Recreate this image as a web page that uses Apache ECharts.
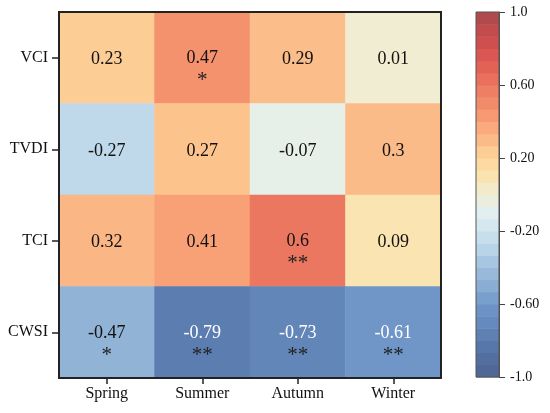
<!DOCTYPE html>
<html>
<head>
<meta charset="utf-8">
<script src="https://cdn.jsdelivr.net/npm/echarts@6/dist/echarts.min.js"></script>
<style>
  html, body { margin: 0; padding: 0; background: #fff; }
  #main { width: 550px; height: 413px; }
</style>
</head>
<body>
<div id="main"></div>
<script>
// seasons along x, indices along y (top to bottom)
var seasons = ['Spring', 'Summer', 'Autumn', 'Winter'];
var indices = ['VCI', 'TVDI', 'TCI', 'CWSI'];

// correlation values, one row per index
var vciVals = [0.23, 0.47, 0.29, 0.01];
var tvdiVals = [-0.27, 0.27, -0.07, 0.3];
var tciVals = [0.32, 0.41, 0.6, 0.09];
var cwsiVals = [-0.47, -0.79, -0.73, -0.61];

// significance marks
var vciSig = ['', '*', '', ''];
var tvdiSig = ['', '', '', ''];
var tciSig = ['', '', '**', ''];
var cwsiSig = ['*', '**', '**', '**'];

// colour bar
var barMin = -1, barMax = 1, barLevels = 30;

// colour stops every 0.1 from -1 to 1
var palette = ['#4d6592', '#536f9f', '#5b7bae', '#668abd', '#7097c8', '#8aaed3',
  '#9fbfdd', '#b8d4e8', '#cfe3ef', '#e2eff0', '#f0eed6', '#fae3ae', '#fdd69a',
  '#fbbb88', '#f9a277', '#f28b6a', '#ec7761', '#e26356', '#d65050', '#c24c4d', '#a9494c'];

var rows = [vciVals, tvdiVals, tciVals, cwsiVals];
var sigs = [vciSig, tvdiSig, tciSig, cwsiSig];
var heatData = [];
rows.forEach(function (r, j) {
  r.forEach(function (v, i) {
    var s = sigs[j][i];
    heatData.push({ value: [i, j, v], sig: s, dark: v < -0.55 });
  });
});

var bands = [];
var step = (barMax - barMin) / barLevels;
for (var k = 0; k < barLevels; k++) {
  var lo = barMin + k * step;
  bands.push([0, lo, lo + step, lo + step / 2]);
}

var font = 'Liberation Serif';
var chart = echarts.init(document.getElementById('main'));

var tickStyle = { color: '#222', width: 1.5 };

chart.setOption({
  animation: false,
  grid: [
    { left: 59, right: 109, top: 12, bottom: 35, show: true, z: 10,
      backgroundColor: 'transparent', borderColor: '#222', borderWidth: 2 },
    { left: 476, width: 23, top: 12, height: 365, show: true, z: 10,
      backgroundColor: 'transparent', borderColor: '#555', borderWidth: 1 }
  ],
  xAxis: [
    { type: 'category', data: seasons, gridIndex: 0,
      axisLine: { show: true, lineStyle: tickStyle },
      axisTick: { show: true, alignWithLabel: true, length: 6, lineStyle: tickStyle },
      axisLabel: { fontFamily: font, fontSize: 16, color: '#111', margin: 8 },
      splitLine: { show: false } },
    { type: 'category', data: ['c'], gridIndex: 1, show: false }
  ],
  yAxis: [
    { type: 'category', data: indices, gridIndex: 0, inverse: true,
      axisLine: { show: true, lineStyle: tickStyle },
      axisTick: { show: true, alignWithLabel: true, length: 7, lineStyle: tickStyle },
      axisLabel: { fontFamily: font, fontSize: 16, color: '#111', margin: 11 },
      splitLine: { show: false } },
    { type: 'value', gridIndex: 1, min: barMin, max: barMax, interval: 0.4, position: 'right',
      axisLine: { show: true, lineStyle: { color: '#555', width: 1 } },
      axisTick: { show: true, length: 6, lineStyle: { color: '#444', width: 1 } },
      axisLabel: { fontFamily: font, fontSize: 14, color: '#111', margin: 11,
        formatter: function (v) {
          return Math.abs(Math.abs(v) - 1) < 1e-6 ? v.toFixed(1) : v.toFixed(2);
        } },
      splitLine: { show: false } }
  ],
  visualMap: {
    show: false, type: 'continuous', min: barMin, max: barMax,
    seriesIndex: [0, 1],
    inRange: { color: palette }
  },
  series: [
    {
      type: 'heatmap', xAxisIndex: 0, yAxisIndex: 0,
      data: heatData,
      label: {
        show: true, fontFamily: font, fontSize: 18, lineHeight: 22,
        formatter: function (p) {
          var t = (p.data.dark ? '{w|' : '{b|') + p.value[2] + '}';
          return p.data.sig ? t + '\n{s|' + p.data.sig + '}' : t;
        },
        rich: {
          b: { fontFamily: font, fontSize: 18, lineHeight: 22, color: '#111' },
          w: { fontFamily: font, fontSize: 18, lineHeight: 22, color: '#fff' },
          s: { fontFamily: font, fontSize: 21, lineHeight: 22, color: '#222' }
        }
      },
      labelLayout: function (params) {
        var d = heatData[params.dataIndex];
        return d.sig ? { dy: 12 } : { dy: 2 };
      }
    },
    {
      type: 'custom', xAxisIndex: 1, yAxisIndex: 1,
      data: bands,
      renderItem: function (params, api) {
        var top = api.coord([0, api.value(2)]);
        var bot = api.coord([0, api.value(1)]);
        var w = api.size([1, 0])[0];
        return {
          type: 'rect',
          shape: { x: top[0] - w / 2, y: top[1], width: w, height: bot[1] - top[1] + 0.5 },
          style: { fill: api.visual('color') }
        };
      }
    }
  ]
});
</script>
</body>
</html>
